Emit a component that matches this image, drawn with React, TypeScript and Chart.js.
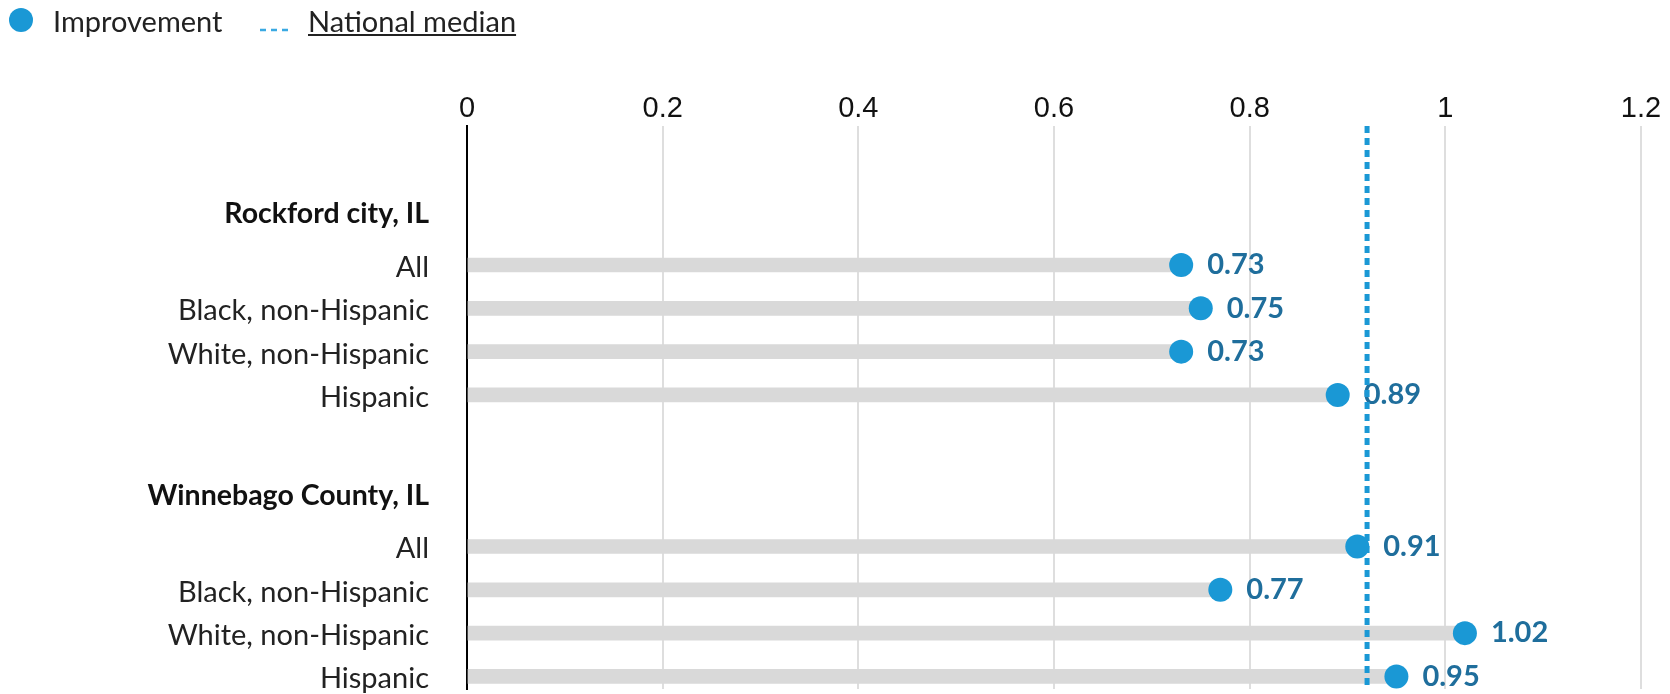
import React, { useEffect, useRef } from 'react';
import { Chart, registerables } from 'chart.js';

Chart.register(...registerables);

// ---- data ----
const groups: string[] = ['Rockford city, IL', 'Winnebago County, IL'];
const subgroups: string[] = ['All', 'Black, non-Hispanic', 'White, non-Hispanic', 'Hispanic'];
const rockfordValues: number[] = [0.73, 0.75, 0.73, 0.89];
const winnebagoValues: number[] = [0.91, 0.77, 1.02, 0.95];
const nationalMedian = 0.92;
const xTickValues: number[] = [0, 0.2, 0.4, 0.6, 0.8, 1, 1.2];

const groupValues: number[][] = [rockfordValues, winnebagoValues];

// ---- layout (row units) ----
const GROUP_STEP = 6.5;
const FIRST_ROW = 3.21;
const HEADER_GAP = 1.18;
const Y_MAX = 13.0;
const LABEL_SHIFT = 0.06;

const DOT = '#1a98d5';
const VALUE_COLOR = '#1f6e9c';

type Row = { pos: number; value: number };
const rows: Row[] = [];
type TickDef = { value: number; label: string; header: boolean };
const yTicks: TickDef[] = [];
groups.forEach((g, gi) => {
  const base = FIRST_ROW + gi * GROUP_STEP;
  yTicks.push({ value: base - HEADER_GAP, label: g, header: true });
  subgroups.forEach((s, si) => {
    rows.push({ pos: base + si, value: groupValues[gi][si] });
    yTicks.push({ value: base + si + LABEL_SHIFT, label: s, header: false });
  });
});

const valueLabels = {
  id: 'valueLabels',
  afterDatasetDraw(chart: any, args: any) {
    if (args.index !== 1) return;
    const ctx = chart.ctx;
    ctx.save();
    ctx.font = 'bold 29px Lato';
    ctx.fillStyle = VALUE_COLOR;
    ctx.textAlign = 'left';
    ctx.textBaseline = 'middle';
    args.meta.data.forEach((el: any, i: number) => {
      ctx.fillText(rows[i].value.toFixed(2), el.x + 26, el.y);
    });
    ctx.restore();
  },
};

function Legend() {
  return (
    <div style={{ position: 'absolute', left: 0, top: 0, width: 600, height: 50, fontFamily: 'Lato', color: '#222' }}>
      <div style={{ position: 'absolute', left: 9, top: 8, width: 24, height: 24, borderRadius: '50%', background: DOT }} />
      <div style={{ position: 'absolute', left: 53, top: 6, fontSize: 29, lineHeight: 1, whiteSpace: 'nowrap' }}>Improvement</div>
      <svg style={{ position: 'absolute', left: 260, top: 25 }} width={30} height={10}>
        <line x1={0} y1={5} x2={28} y2={5} stroke="#3aa9e2" strokeWidth={2.5} strokeDasharray="6 5" />
      </svg>
      <div
        style={{
          position: 'absolute',
          left: 308,
          top: 6,
          fontSize: 29,
          lineHeight: 1,
          whiteSpace: 'nowrap',
          textDecoration: 'underline',
          textUnderlineOffset: '2px',
          textDecorationThickness: '1.5px',
        }}
      >
        National median
      </div>
    </div>
  );
}

export default function App() {
  const ref = useRef<HTMLCanvasElement | null>(null);

  useEffect(() => {
    if (!ref.current) return;
    const chart = new Chart(ref.current, {
      type: 'bar',
      data: {
        datasets: [
          {
            type: 'bar',
            label: 'Bars',
            indexAxis: 'y',
            data: rows.map((r) => ({ x: r.value, y: r.pos })),
            backgroundColor: '#d9d9d9',
            borderWidth: 0,
            barThickness: 14,
            order: 3,
          } as any,
          {
            type: 'scatter',
            label: 'Improvement',
            data: rows.map((r) => ({ x: r.value, y: r.pos })),
            pointRadius: 12,
            pointHoverRadius: 12,
            pointBackgroundColor: DOT,
            pointBorderWidth: 0,
            order: 2,
          } as any,
          {
            type: 'line',
            label: 'National median',
            data: [
              { x: nationalMedian, y: 0 },
              { x: nationalMedian, y: Y_MAX },
            ],
            borderColor: DOT,
            borderWidth: 5,
            borderDash: [7, 5],
            pointRadius: 0,
            fill: false,
            order: 1,
          } as any,
        ],
      },
      options: {
        animation: false,
        responsive: false,
        devicePixelRatio: 1,
        layout: { autoPadding: false, padding: { left: 0, right: 29, top: 0, bottom: 5 } },
        plugins: { legend: { display: false }, tooltip: { enabled: false } },
        scales: {
          x: {
            type: 'linear',
            position: 'top',
            min: 0,
            max: 1.2,
            offset: false,
            afterBuildTicks: (scale: any) => {
              scale.ticks = xTickValues.map((v) => ({ value: v }));
            },
            afterFit: (scale: any) => {
              scale.height = 126;
            },
            grid: {
              offset: false,
              drawTicks: false,
              color: (ctx: any) => (ctx.tick && ctx.tick.value === 0 ? '#000' : '#dedede'),
              lineWidth: 2,
            },
            border: { display: false },
            ticks: {
              padding: 0,
              color: '#111',
              font: { family: "'Liberation Sans', Arial, sans-serif", size: 29 },
              callback: (v: any) => String(v),
            },
          },
          y: {
            type: 'linear',
            reverse: true,
            min: 0,
            max: Y_MAX,
            offset: false,
            afterBuildTicks: (scale: any) => {
              scale.ticks = yTicks.map((t) => ({ value: t.value }));
            },
            afterFit: (scale: any) => {
              scale.width = 467;
              scale.paddingTop = 0;
              scale.paddingBottom = 0;
            },
            grid: { display: false, drawTicks: false, offset: false },
            border: { display: true, color: '#000', width: 2 },
            ticks: {
              autoSkip: false,
              padding: 38,
              callback: (_v: any, i: number) => yTicks[i].label,
              font: (ctx: any) =>
                yTicks[ctx.index] && yTicks[ctx.index].header
                  ? { family: 'Lato', size: 28.5, weight: 'bold' }
                  : { family: 'Lato', size: 29 },
              color: (ctx: any) => (yTicks[ctx.index] && yTicks[ctx.index].header ? '#111' : '#222'),
            },
          },
        },
      } as any,
      plugins: [valueLabels],
    });
    return () => chart.destroy();
  }, []);

  return (
    <div style={{ position: 'fixed', left: 0, top: 0, width: 1670, height: 694, background: '#fff' }}>
      <canvas ref={ref} width={1670} height={694} style={{ position: 'absolute', left: 0, top: 0 }} />
      <Legend />
    </div>
  );
}
